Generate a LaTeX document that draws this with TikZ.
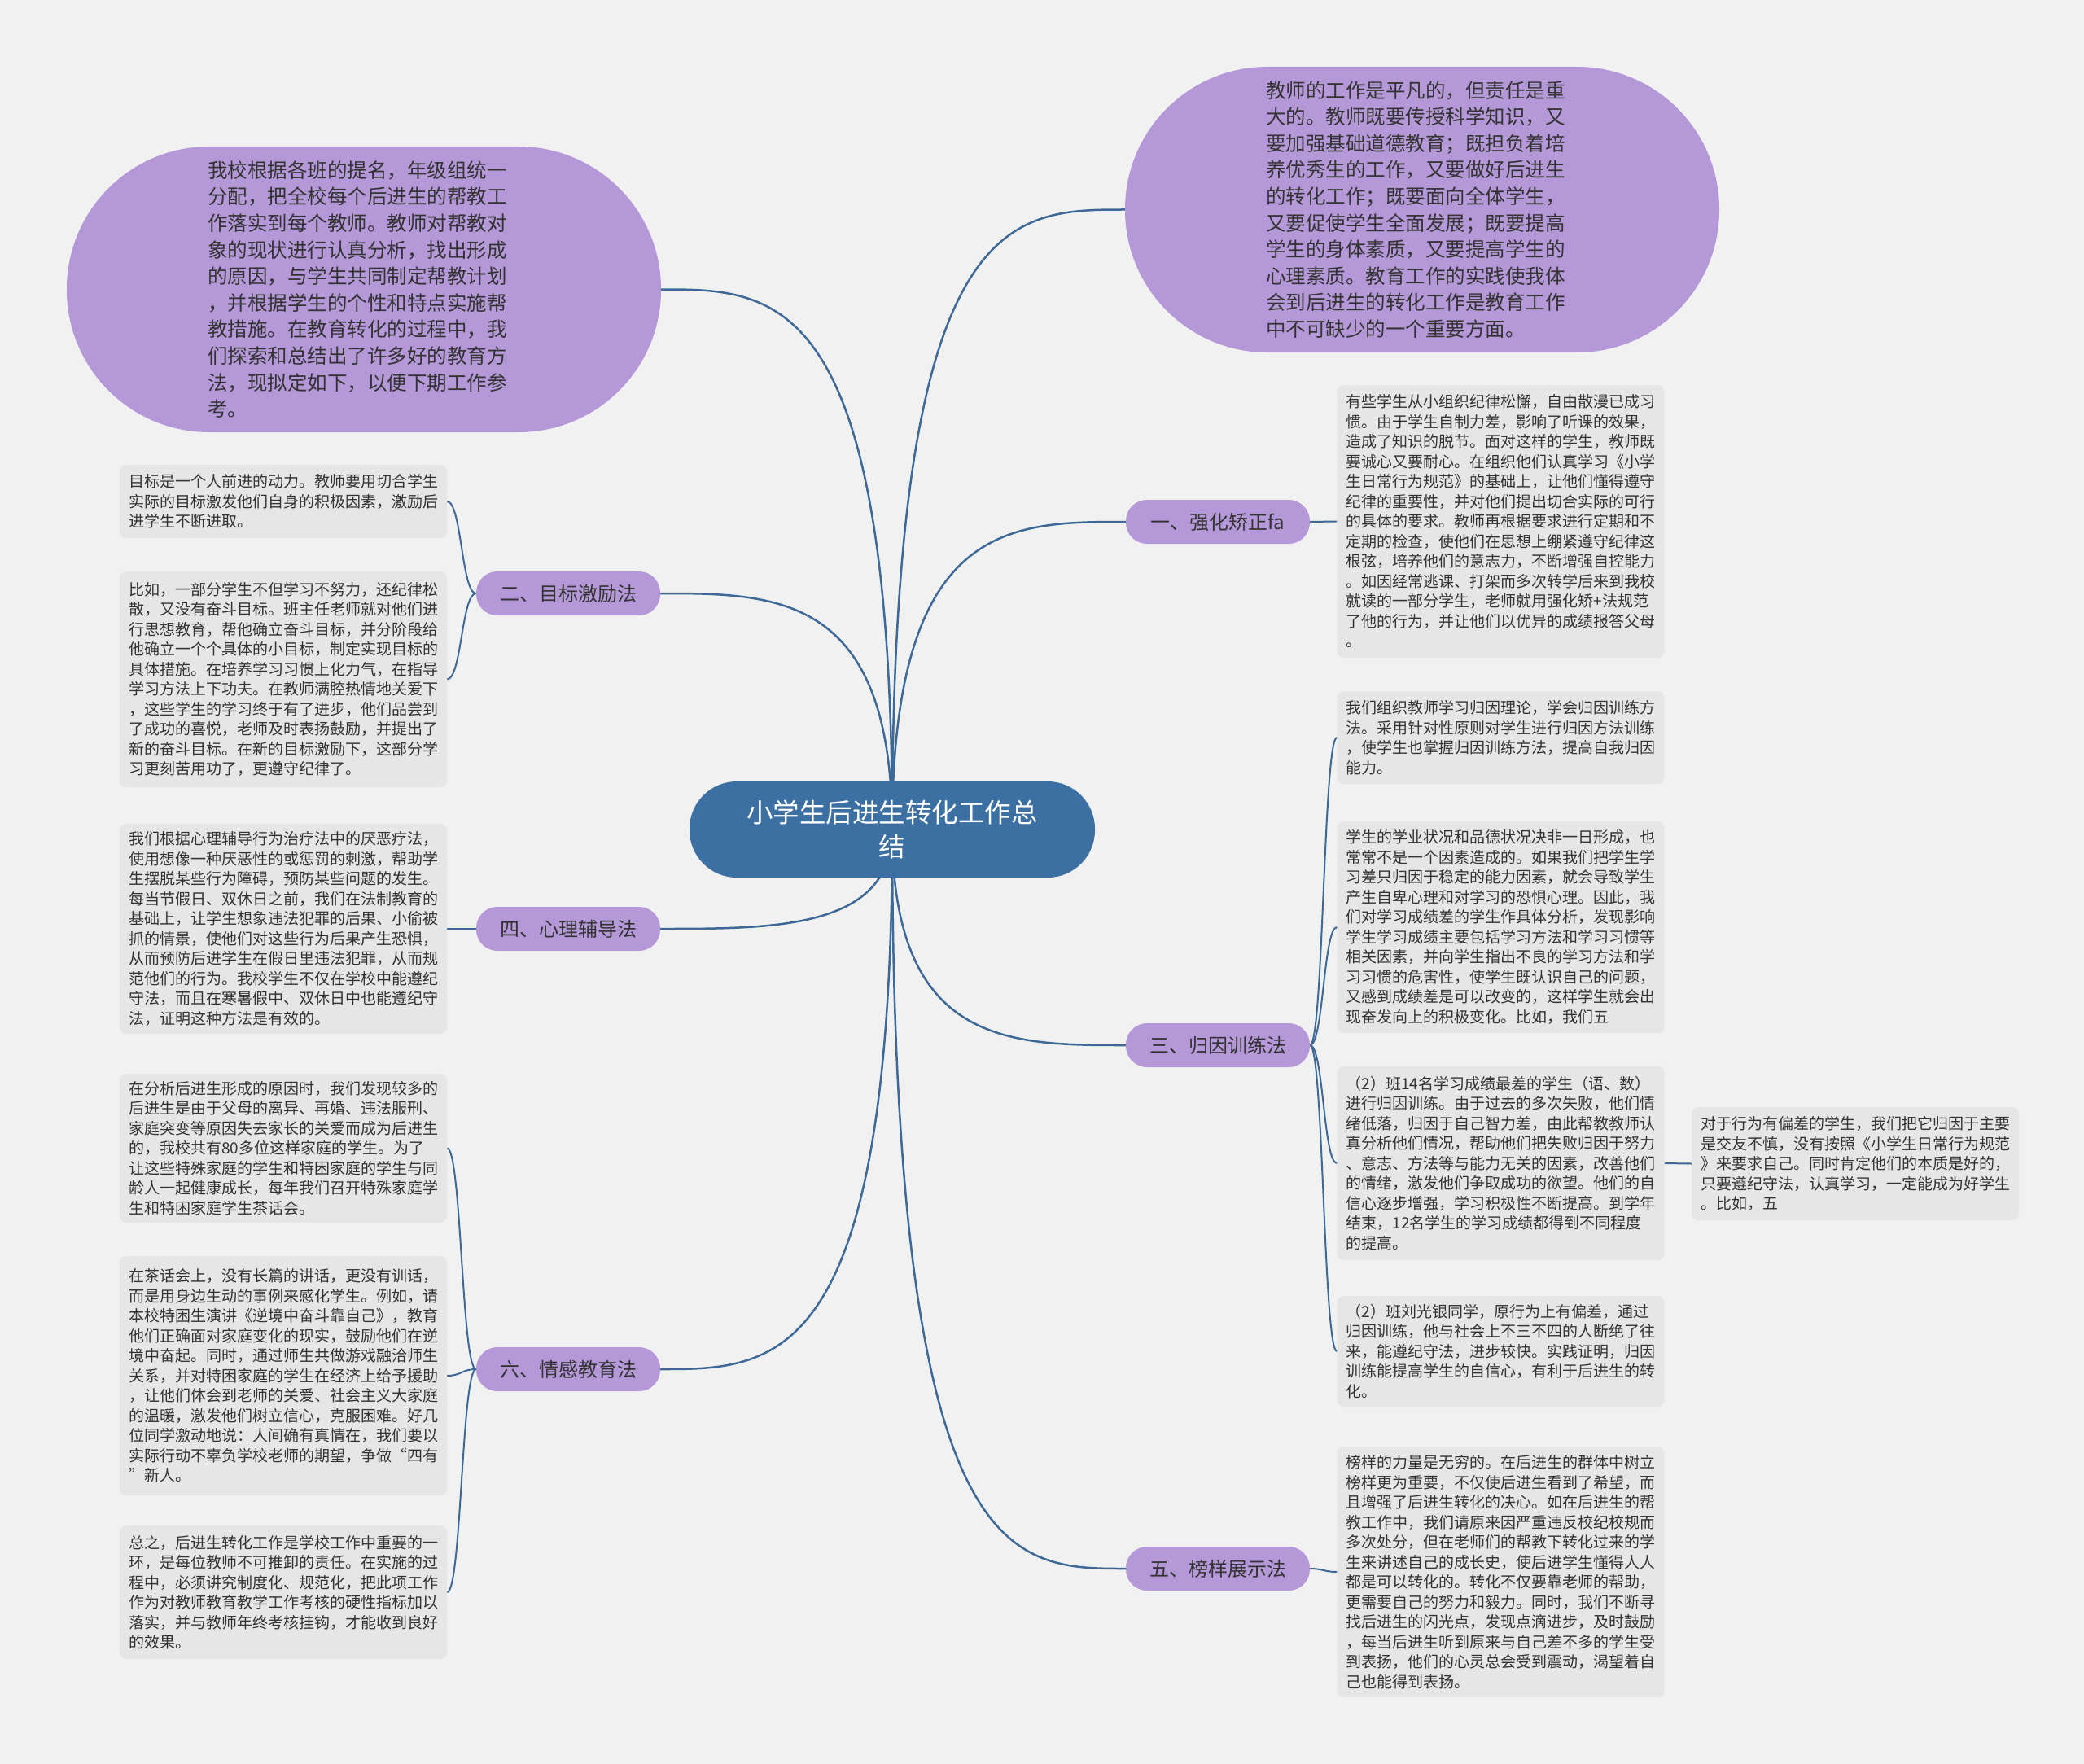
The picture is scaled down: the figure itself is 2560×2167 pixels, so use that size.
\documentclass[tikz,border=0pt]{standalone}
\usepackage{fontspec}
\setmainfont{Noto Sans CJK SC}
\usetikzlibrary{calc}
\pgfdeclarelayer{bg}
\pgfsetlayers{bg,main}
\definecolor{bgc}{RGB}{241,241,241}
\definecolor{purp}{RGB}{180,152,216}
\definecolor{bluec}{RGB}{60,112,162}
\definecolor{leafc}{RGB}{230,230,230}
\definecolor{linec}{RGB}{62,105,150}
\definecolor{txtc}{RGB}{51,51,51}
\begin{document}
\begin{tikzpicture}[x=1pt,y=-1pt,
  leafbox/.style={fill=leafc, rounded corners=8pt, text width=380pt, inner xsep=11pt, inner ysep=4pt,
    align=left, font=\fontsize{19}{24.5}\selectfont, text=txtc, minimum width=402pt},
  ellip/.style={fill=purp, rounded corners=175pt, minimum width=730pt, minimum height=351pt,
    text width=384pt, align=left, font=\fontsize{24.5}{32.6}\selectfont, text=txtc, inner sep=0pt},
  pill/.style={fill=purp, rounded corners=26pt, minimum width=226pt, minimum height=54pt,
    font=\fontsize{24}{28}\selectfont, text=txtc, inner sep=0pt},
  cnode/.style={fill=bluec, rounded corners=58pt, minimum width=498pt, minimum height=118pt,
    align=center, font=\fontsize{32.5}{42}\selectfont, text=white, inner sep=0pt},
  mainline/.style={draw=linec, line width=2.5pt},
  subline/.style={draw=linec, line width=2pt}
]
\useasboundingbox (0,0) rectangle (2560,2167);

% central
\node[cnode] (c) at (1096,1019) {小学生后进生转化工作总\\结};

% top ellipses
\node[ellip] (tl) at (447,355.5) {我校根据各班的提名，年级组统一\\分配，把全校每个后进生的帮教工\\作落实到每个教师。教师对帮教对\\象的现状进行认真分析，找出形成\\的原因，与学生共同制定帮教计划\\，并根据学生的个性和特点实施帮\\教措施。在教育转化的过程中，我\\们探索和总结出了许多好的教育方\\法，现拟定如下，以便下期工作参\\考。};
\node[ellip] (tr) at (1747,257.5) {教师的工作是平凡的，但责任是重\\大的。教师既要传授科学知识，又\\要加强基础道德教育；既担负着培\\养优秀生的工作，又要做好后进生\\的转化工作；既要面向全体学生，\\又要促使学生全面发展；既要提高\\学生的身体素质，又要提高学生的\\心理素质。教育工作的实践使我体\\会到后进生的转化工作是教育工作\\中不可缺少的一个重要方面。};

% branch nodes
\node[pill] (n1) at (1496,641) {一、强化矫正fa};
\node[pill] (n2) at (698,729) {二、目标激励法};
\node[pill] (n3) at (1496,1284) {三、归因训练法};
\node[pill] (n4) at (698,1141) {四、心理辅导法};
\node[pill] (n5) at (1496,1927) {五、榜样展示法};
\node[pill] (n6) at (698,1682) {六、情感教育法};

% left leaves
\node[leafbox, minimum height=90pt] (bA) at (348,616) {目标是一个人前进的动力。教师要用切合学生\\实际的目标激发他们自身的积极因素，激励后\\进学生不断进取。};
\node[leafbox, minimum height=265pt] (bB) at (348,834.5) {比如，一部分学生不但学习不努力，还纪律松\\散，又没有奋斗目标。班主任老师就对他们进\\行思想教育，帮他确立奋斗目标，并分阶段给\\他确立一个个具体的小目标，制定实现目标的\\具体措施。在培养学习习惯上化力气，在指导\\学习方法上下功夫。在教师满腔热情地关爱下\\，这些学生的学习终于有了进步，他们品尝到\\了成功的喜悦，老师及时表扬鼓励，并提出了\\新的奋斗目标。在新的目标激励下，这部分学\\习更刻苦用功了，更遵守纪律了。};
\node[leafbox, minimum height=258pt] (bC) at (348,1141) {我们根据心理辅导行为治疗法中的厌恶疗法，\\使用想像一种厌恶性的或惩罚的刺激，帮助学\\生摆脱某些行为障碍，预防某些问题的发生。\\每当节假日、双休日之前，我们在法制教育的\\基础上，让学生想象违法犯罪的后果、小偷被\\抓的情景，使他们对这些行为后果产生恐惧，\\从而预防后进学生在假日里违法犯罪，从而规\\范他们的行为。我校学生不仅在学校中能遵纪\\守法，而且在寒暑假中、双休日中也能遵纪守\\法，证明这种方法是有效的。};
\node[leafbox, minimum height=183pt] (bD) at (348,1410.5) {在分析后进生形成的原因时，我们发现较多的\\后进生是由于父母的离异、再婚、违法服刑、\\家庭突变等原因失去家长的关爱而成为后进生\\的，我校共有80多位这样家庭的学生。为了\\让这些特殊家庭的学生和特困家庭的学生与同\\龄人一起健康成长，每年我们召开特殊家庭学\\生和特困家庭学生茶话会。};
\node[leafbox, minimum height=294pt] (bE) at (348,1690) {在茶话会上，没有长篇的讲话，更没有训话，\\而是用身边生动的事例来感化学生。例如，请\\本校特困生演讲《逆境中奋斗靠自己》，教育\\他们正确面对家庭变化的现实，鼓励他们在逆\\境中奋起。同时，通过师生共做游戏融洽师生\\关系，并对特困家庭的学生在经济上给予援助\\，让他们体会到老师的关爱、社会主义大家庭\\的温暖，激发他们树立信心，克服困难。好几\\位同学激动地说：人间确有真情在，我们要以\\实际行动不辜负学校老师的期望，争做“四有\\”新人。};
\node[leafbox, minimum height=164pt] (bF) at (348,1956) {总之，后进生转化工作是学校工作中重要的一\\环，是每位教师不可推卸的责任。在实施的过\\程中，必须讲究制度化、规范化，把此项工作\\作为对教师教育教学工作考核的硬性指标加以\\落实，并与教师年终考核挂钩，才能收到良好\\的效果。};

% right leaves
\node[leafbox, minimum height=335pt] (r1) at (1843.5,640.5) {有些学生从小组织纪律松懈，自由散漫已成习\\惯。由于学生自制力差，影响了听课的效果，\\造成了知识的脱节。面对这样的学生，教师既\\要诚心又要耐心。在组织他们认真学习《小学\\生日常行为规范》的基础上，让他们懂得遵守\\纪律的重要性，并对他们提出切合实际的可行\\的具体的要求。教师再根据要求进行定期和不\\定期的检查，使他们在思想上绷紧遵守纪律这\\根弦，培养他们的意志力，不断增强自控能力\\。如因经常逃课、打架而多次转学后来到我校\\就读的一部分学生，老师就用强化矫+法规范\\了他的行为，并让他们以优异的成绩报答父母\\。};
\node[leafbox, minimum height=114pt] (r3a) at (1843.5,906) {我们组织教师学习归因理论，学会归因训练方\\法。采用针对性原则对学生进行归因方法训练\\，使学生也掌握归因训练方法，提高自我归因\\能力。};
\node[leafbox, minimum height=260pt] (r3b) at (1843.5,1139) {学生的学业状况和品德状况决非一日形成，也\\常常不是一个因素造成的。如果我们把学生学\\习差只归因于稳定的能力因素，就会导致学生\\产生自卑心理和对学习的恐惧心理。因此，我\\们对学习成绩差的学生作具体分析，发现影响\\学生学习成绩主要包括学习方法和学习习惯等\\相关因素，并向学生指出不良的学习方法和学\\习习惯的危害性，使学生既认识自己的问题，\\又感到成绩差是可以改变的，这样学生就会出\\现奋发向上的积极变化。比如，我们五};
\node[leafbox, minimum height=238pt] (r3c) at (1843.5,1429) {（2）班14名学习成绩最差的学生（语、数）\\进行归因训练。由于过去的多次失败，他们情\\绪低落，归因于自己智力差，由此帮教教师认\\真分析他们情况，帮助他们把失败归因于努力\\、意志、方法等与能力无关的因素，改善他们\\的情绪，激发他们争取成功的欲望。他们的自\\信心逐步增强，学习积极性不断提高。到学年\\结束，12名学生的学习成绩都得到不同程度\\的提高。};
\node[leafbox, minimum height=136pt] (r3d) at (1843.5,1660) {（2）班刘光银同学，原行为上有偏差，通过\\归因训练，他与社会上不三不四的人断绝了往\\来，能遵纪守法，进步较快。实践证明，归因\\训练能提高学生的自信心，有利于后进生的转\\化。};
\node[leafbox, minimum height=139pt] (r3e) at (2279,1429.5) {对于行为有偏差的学生，我们把它归因于主要\\是交友不慎，没有按照《小学生日常行为规范\\》来要求自己。同时肯定他们的本质是好的，\\只要遵纪守法，认真学习，一定能成为好学生\\。比如，五};
\node[leafbox, minimum height=308pt] (r5) at (1843.5,1931) {榜样的力量是无穷的。在后进生的群体中树立\\榜样更为重要，不仅使后进生看到了希望，而\\且增强了后进生转化的决心。如在后进生的帮\\教工作中，我们请原来因严重违反校纪校规而\\多次处分，但在老师们的帮教下转化过来的学\\生来讲述自己的成长史，使后进学生懂得人人\\都是可以转化的。转化不仅要靠老师的帮助，\\更需要自己的努力和毅力。同时，我们不断寻\\找后进生的闪光点，发现点滴进步，及时鼓励\\，每当后进生听到原来与自己差不多的学生受\\到表扬，他们的心灵总会受到震动，渴望着自\\己也能得到表扬。};

\begin{pgfonlayer}{bg}
\fill[bgc] (0,0) rectangle (2560,2167);
% main connectors
\foreach \t/\a in {tl/east, tr/west, n1/west, n2/east, n3/west, n4/east, n5/west, n6/east}{
  \draw[mainline] (c.center) .. controls (c.center |- \t.\a) and ($(c.center |- \t.\a)!0.5!(\t.\a)$) .. (\t.\a);
}
% sub connectors
\foreach \n/\b/\na/\ba in {n2/bA/west/east, n2/bB/west/east, n4/bC/west/east, n6/bD/west/east, n6/bE/west/east, n6/bF/west/east,
  n1/r1/east/west, n3/r3a/east/west, n3/r3b/east/west, n3/r3c/east/west, n3/r3d/east/west, n5/r5/east/west, r3c/r3e/east/west}{
  \draw[subline] (\n.\na) .. controls ($(\n.\na)!0.5!(\n.\na -| \b.\ba)$) and ($(\b.\ba)!0.5!(\b.\ba -| \n.\na)$) .. (\b.\ba);
}
\end{pgfonlayer}
\end{tikzpicture}
\end{document}
